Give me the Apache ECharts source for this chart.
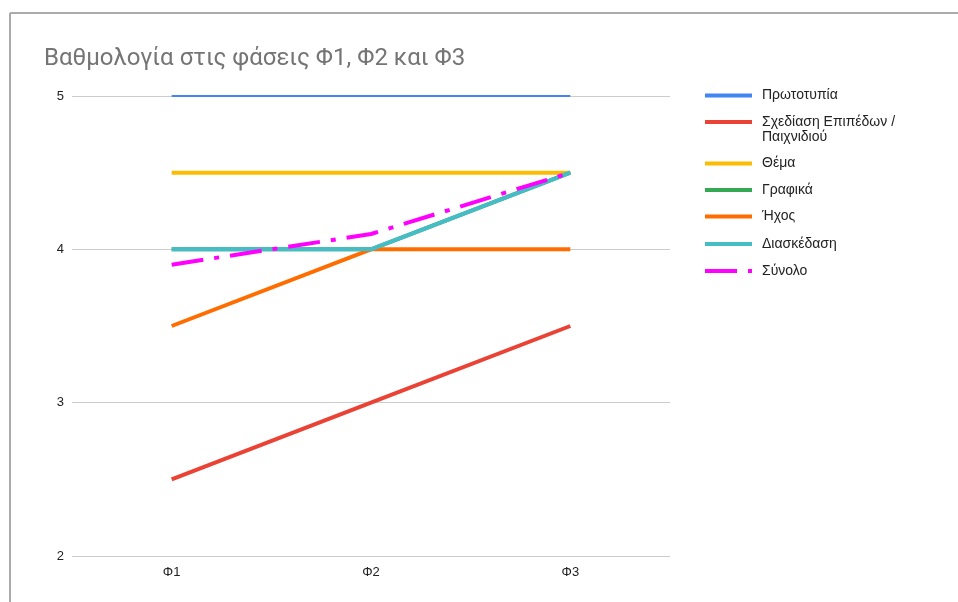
<!DOCTYPE html>
<html>
<head>
<meta charset="utf-8">
<script src="https://cdn.jsdelivr.net/npm/echarts@6/dist/echarts.min.js"></script>
<style>
  html, body { margin: 0; padding: 0; background: #fff; }
  #chart { width: 958px; height: 602px; }
</style>
</head>
<body>
<div id="chart"></div>
<script>
// Phases on the x axis
const phases = ['Φ1', 'Φ2', 'Φ3'];

// Scores per criterion across the three phases
const seriesNames = [
  'Πρωτοτυπία',
  'Σχεδίαση Επιπέδων / Παιχνιδιού',
  'Θέμα',
  'Γραφικά',
  'Ήχος',
  'Διασκέδαση',
  'Σύνολο'
];
const originality = [5, 5, 5];
const levelDesign = [2.5, 3, 3.5];
const theme = [4.5, 4.5, 4.5];
const graphics = [4, 4, 4.5];
const sound = [3.5, 4, 4];
const fun = [4, 4, 4.5];
const total = [3.9, 4.1, 4.5];

// Value axis ticks
const yTicks = [2, 3, 4, 5];

const values = [originality, levelDesign, theme, graphics, sound, fun, total];
const colors = ['#4285f4', '#ea4335', '#fbbc04', '#34a853', '#ff6d01', '#46bdc6', '#ff00ff'];
const widths = [2, 4, 4, 4, 4, 4, 4];

const font = 'Arial, "Liberation Sans", sans-serif';

const series = seriesNames.map((name, i) => ({
  name: name,
  type: 'line',
  data: values[i],
  symbol: 'none',
  showSymbol: false,
  clip: false,
  z: 2 + i,
  lineStyle: {
    color: colors[i],
    width: widths[i],
    cap: 'butt',
    join: 'round',
    type: i === 6 ? [32, 11, 5, 11] : 'solid'
  },
  itemStyle: { color: colors[i] },
  emphasis: { disabled: true }
}));

// One legend block per entry so the wrapped entry keeps its icon on the first line
const legendTops = [88, 99.5, 156, 182.5, 209, 236.5, 263.5];
const solidIcon = 'path://M0,0L47,0L47,4L0,4Z';
const dashIcon = 'path://M0,0L32,0L32,4L0,4ZM43,0L47,0L47,4L43,4Z';
const legends = seriesNames.map((name, i) => ({
  orient: 'vertical',
  left: 705,
  top: legendTops[i],
  padding: 0,
  itemWidth: 47,
  itemHeight: 14,
  itemGap: 0,
  itemStyle: { color: colors[i], borderWidth: 0 },
  lineStyle: { width: 0 },
  data: [{ name: name, icon: i === 6 ? dashIcon : solidIcon }],
  formatter: (n) => n === 'Σχεδίαση Επιπέδων / Παιχνιδιού' ? '\nΣχεδίαση Επιπέδων /\nΠαιχνιδιού' : n,
  textStyle: {
    fontFamily: font,
    fontSize: 14,
    color: '#222',
    lineHeight: 15,
    padding: [0, 0, 0, 5]
  },
  selectedMode: false
}));

const chart = echarts.init(document.getElementById('chart'), null, { renderer: 'canvas' });
chart.setOption({
  animation: false,
  backgroundColor: '#fff',
  title: {
    text: 'Βαθμολογία στις φάσεις Φ1, Φ2 και Φ3',
    left: 39,
    top: 42,
    textStyle: {
      fontFamily: 'Roboto, Arial, sans-serif',
      fontSize: 24,
      fontWeight: 'normal',
      color: '#757575'
    }
  },
  legend: legends,
  grid: { left: 72, right: 288, top: 96, bottom: 46, containLabel: false },
  xAxis: {
    type: 'category',
    data: phases,
    boundaryGap: true,
    axisLine: { show: false },
    axisTick: { show: false },
    axisLabel: { fontFamily: font, fontSize: 13, color: '#222', margin: 10 }
  },
  yAxis: {
    type: 'value',
    min: yTicks[0],
    max: yTicks[yTicks.length - 1],
    interval: 1,
    axisLine: { show: false },
    axisTick: { show: false },
    axisLabel: { fontFamily: font, fontSize: 13, color: '#222', margin: 8 },
    splitLine: { lineStyle: { color: '#cccccc', width: 1 } }
  },
  graphic: [
    { type: 'line', shape: { x1: 10, y1: 13, x2: 958, y2: 13 }, style: { stroke: '#ababab', lineWidth: 2 }, silent: true },
    { type: 'line', shape: { x1: 10, y1: 13, x2: 10, y2: 602 }, style: { stroke: '#ababab', lineWidth: 2 }, silent: true }
  ],
  series: series
});
</script>
</body>
</html>
